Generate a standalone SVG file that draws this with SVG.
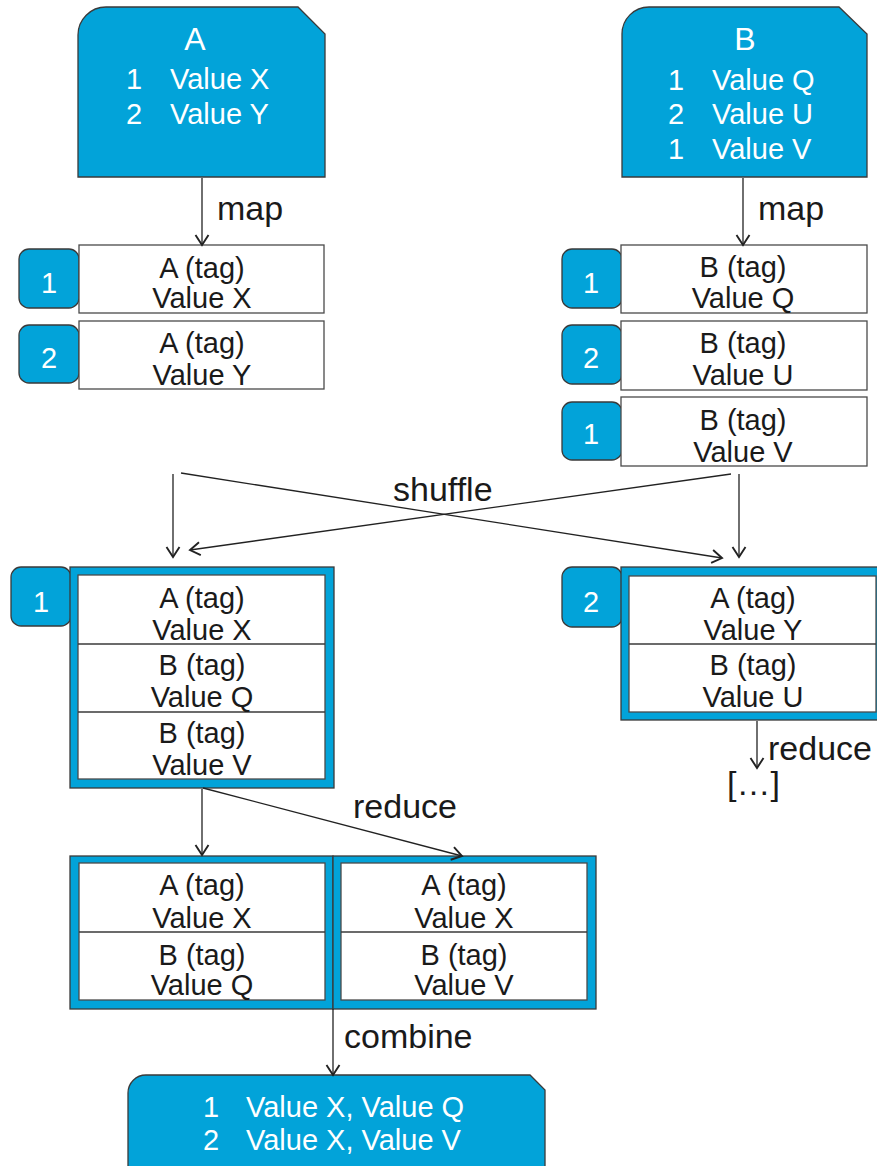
<svg xmlns="http://www.w3.org/2000/svg" width="877" height="1166" viewBox="0 0 877 1166">
<style>
  text { font-family: "Liberation Sans", Arial, sans-serif; }
  .blue { fill: #02A3D9; stroke: #3a3a3a; stroke-width: 1.3; }
  .white { fill: #ffffff; stroke: #4a4a4a; stroke-width: 1.3; }
  .sep { stroke: #3a3a3a; stroke-width: 1.3; fill: none; }
  .wt { fill: #ffffff; font-size: 29px; }
  .ttl { fill: #ffffff; font-size: 32px; text-anchor: middle; }
  .bt { fill: #1a1a1a; font-size: 29px; text-anchor: middle; }
  .lbl { fill: #1a1a1a; font-size: 34px; }
  .conn { stroke: #222; stroke-width: 1.3; fill: none; marker-end: url(#arr); }
</style>
<defs>
  <marker id="arr" markerUnits="userSpaceOnUse" markerWidth="14" markerHeight="16" refX="11" refY="8" orient="auto">
    <path d="M1,1.5 L11,8 L1,14.5" fill="none" stroke="#222" stroke-width="1.9"/>
  </marker>
</defs>

<g id="tableA">
  <path class="blue" d="M78,35 A28,28 0 0 1 106,7 L298,7 L325,34 L325,177 L78,177 Z"/>
  <text class="ttl" x="195" y="50">A</text>
  <text class="wt" x="126" y="89">1</text><text class="wt" x="170" y="89">Value X</text>
  <text class="wt" x="126" y="124">2</text><text class="wt" x="170" y="124">Value Y</text>
</g>

<g id="tableB">
  <path class="blue" d="M622,34 A27,27 0 0 1 649,7 L839,7 L867,34 L867,177 L622,177 Z"/>
  <text class="ttl" x="745" y="50">B</text>
  <text class="wt" x="668" y="90">1</text><text class="wt" x="712" y="90">Value Q</text>
  <text class="wt" x="668" y="124">2</text><text class="wt" x="712" y="124">Value U</text>
  <text class="wt" x="668" y="159">1</text><text class="wt" x="712" y="159">Value V</text>
</g>

<g id="mapA1">
  <rect class="blue" x="19" y="249" width="60" height="59" rx="10"/>
  <text class="wt" x="49" y="293" text-anchor="middle">1</text>
  <rect class="white" x="79" y="245" width="245" height="68"/>
  <text class="bt" x="202" y="278">A (tag)</text>
  <text class="bt" x="202" y="308">Value X</text>
</g>
<g id="mapA2">
  <rect class="blue" x="19" y="325" width="60" height="58" rx="10"/>
  <text class="wt" x="49" y="368" text-anchor="middle">2</text>
  <rect class="white" x="79" y="321" width="245" height="68"/>
  <text class="bt" x="202" y="353">A (tag)</text>
  <text class="bt" x="202" y="385">Value Y</text>
</g>

<g id="mapB1">
  <rect class="blue" x="562" y="249" width="60" height="59" rx="10"/>
  <text class="wt" x="591" y="293" text-anchor="middle">1</text>
  <rect class="white" x="621" y="245" width="246" height="68"/>
  <text class="bt" x="743" y="277">B (tag)</text>
  <text class="bt" x="743" y="308">Value Q</text>
</g>
<g id="mapB2">
  <rect class="blue" x="562" y="325" width="60" height="59" rx="10"/>
  <text class="wt" x="591" y="368" text-anchor="middle">2</text>
  <rect class="white" x="621" y="321" width="246" height="69"/>
  <text class="bt" x="743" y="353">B (tag)</text>
  <text class="bt" x="743" y="385">Value U</text>
</g>
<g id="mapB3">
  <rect class="blue" x="562" y="402" width="60" height="58" rx="10"/>
  <text class="wt" x="591" y="444" text-anchor="middle">1</text>
  <rect class="white" x="621" y="397" width="246" height="69"/>
  <text class="bt" x="743" y="430">B (tag)</text>
  <text class="bt" x="743" y="462">Value V</text>
</g>

<g id="group1">
  <rect class="blue" x="11" y="567" width="60" height="59" rx="10"/>
  <text class="wt" x="41" y="612" text-anchor="middle">1</text>
  <rect class="blue" x="70" y="567" width="264" height="221"/>
  <rect class="white" x="78" y="575" width="247" height="204"/>
  <line class="sep" x1="78" y1="644" x2="325" y2="644"/>
  <line class="sep" x1="78" y1="712" x2="325" y2="712"/>
  <text class="bt" x="202" y="608">A (tag)</text>
  <text class="bt" x="202" y="640">Value X</text>
  <text class="bt" x="202" y="675">B (tag)</text>
  <text class="bt" x="202" y="707">Value Q</text>
  <text class="bt" x="202" y="743">B (tag)</text>
  <text class="bt" x="202" y="775">Value V</text>
</g>

<g id="group2">
  <rect class="blue" x="562" y="567" width="60" height="60" rx="10"/>
  <text class="wt" x="591" y="612" text-anchor="middle">2</text>
  <rect class="blue" x="621" y="567" width="264" height="153"/>
  <rect class="white" x="629" y="576" width="247" height="136"/>
  <line class="sep" x1="629" y1="644" x2="876" y2="644"/>
  <text class="bt" x="753" y="608">A (tag)</text>
  <text class="bt" x="753" y="640">Value Y</text>
  <text class="bt" x="753" y="675">B (tag)</text>
  <text class="bt" x="753" y="707">Value U</text>
</g>

<g id="reduced1">
  <rect class="blue" x="70" y="856" width="263" height="153"/>
  <rect class="white" x="79" y="863" width="246" height="137"/>
  <line class="sep" x1="79" y1="932" x2="325" y2="932"/>
  <text class="bt" x="202" y="895">A (tag)</text>
  <text class="bt" x="202" y="928">Value X</text>
  <text class="bt" x="202" y="965">B (tag)</text>
  <text class="bt" x="202" y="995">Value Q</text>
</g>
<g id="reduced2">
  <rect class="blue" x="333" y="856" width="263" height="153"/>
  <rect class="white" x="341" y="863" width="246" height="137"/>
  <line class="sep" x1="341" y1="932" x2="587" y2="932"/>
  <text class="bt" x="464" y="895">A (tag)</text>
  <text class="bt" x="464" y="928">Value X</text>
  <text class="bt" x="464" y="965">B (tag)</text>
  <text class="bt" x="464" y="995">Value V</text>
</g>

<g id="result">
  <path class="blue" d="M128,1093 A18,18 0 0 1 146,1075 L530,1075 L545,1090 L545,1175 L128,1175 Z"/>
  <text class="wt" x="203" y="1117">1</text><text class="wt" x="246" y="1117">Value X, Value Q</text>
  <text class="wt" x="203" y="1150">2</text><text class="wt" x="246" y="1150">Value X, Value V</text>
</g>

<g id="connectors">
  <line class="conn" x1="202" y1="178" x2="202" y2="245"/>
  <text class="lbl" x="217" y="220">map</text>
  <line class="conn" x1="743" y1="178" x2="743" y2="245"/>
  <text class="lbl" x="758" y="220">map</text>

  <line class="conn" x1="173" y1="474" x2="173" y2="557"/>
  <line class="conn" x1="739" y1="474" x2="739" y2="557"/>
  <line class="conn" x1="181" y1="473" x2="722" y2="558"/>
  <line class="conn" x1="731" y1="474" x2="190" y2="550"/>
  <text class="lbl" x="393" y="501">shuffle</text>

  <line class="conn" x1="757" y1="721" x2="757" y2="768"/>
  <text class="lbl" x="768" y="760">reduce</text>
  <text class="lbl" x="727" y="795">[…]</text>

  <line class="conn" x1="202" y1="789" x2="202" y2="855"/>
  <line class="conn" x1="203" y1="788" x2="462" y2="856"/>
  <text class="lbl" x="353" y="818">reduce</text>

  <line class="conn" x1="333" y1="1009" x2="333" y2="1075"/>
  <text class="lbl" x="344" y="1048">combine</text>
</g>
</svg>
